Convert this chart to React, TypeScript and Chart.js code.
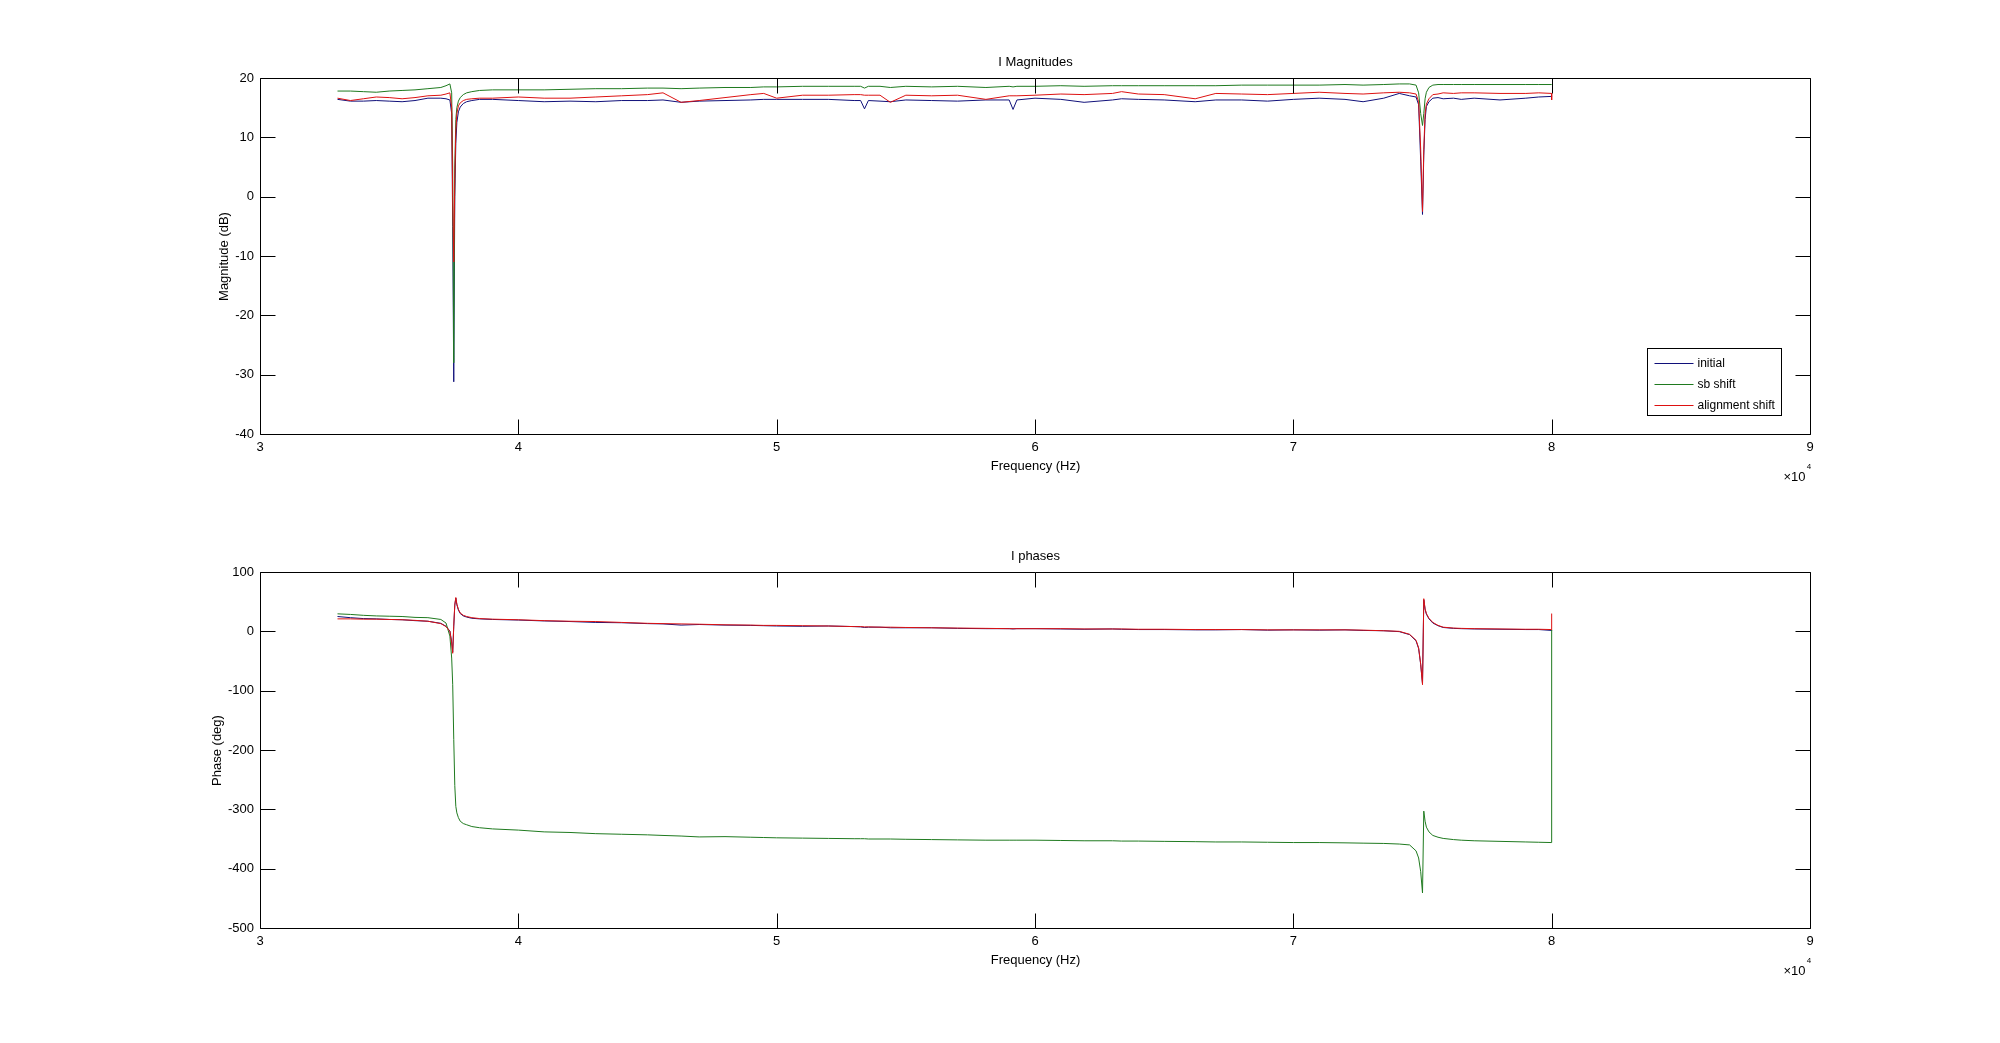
import React, { useEffect, useRef } from "react";
import { Chart, registerables } from "chart.js";

Chart.register(...registerables);

// ---------- data ----------
const FREQ_HZ = [
  33000, 33500, 34000, 34500, 35000, 35500, 36000, 36500, 37000, 37200,
  37350, 37420, 37460, 37500, 37540, 37580, 37620, 37680, 37750, 37870,
  38000, 38200, 38500, 39000, 40000, 41000, 42000, 43000, 44000, 45000,
  45600, 46300, 47000, 48000, 49000, 49500, 50000, 51000, 52000, 53000,
  53250, 53400, 53550, 54000, 54400, 55000, 56000, 57000, 58100, 59000, 59150, 59300, 60000, 61000,
  61900, 63000, 63350, 64000, 65000, 66200, 67000, 68000, 69000, 70000,
  71000, 72000, 72700, 73500, 74100, 74500, 74750, 74850, 74930, 75000,
  75050, 75100, 75150, 75250, 75400, 75600, 75800, 76200, 76500, 77000,
  78000, 79000, 79500, 80000, 80000,
];

const MAG_INITIAL = [
  16.4, 16.1, 16.1, 16.2, 16.1, 16.0, 16.2, 16.6, 16.6, 16.5,
  16.3, 14.0, -5, -31.2, 0, 9, 12.5, 14.3, 15.1, 15.7,
  16.0, 16.2, 16.4, 16.4, 16.2, 16.0, 16.1, 16.0, 16.2, 16.2,
  16.3, 15.9, 16.1, 16.2, 16.3, 16.4, 16.4, 16.4, 16.4, 16.2,
  16.2, 14.8, 16.2, 16.1, 16.0, 16.3, 16.2, 16.1, 16.3, 16.3, 14.7, 16.3, 16.6, 16.4,
  15.9, 16.3, 16.5, 16.4, 16.3, 16.0, 16.3, 16.3, 16.1, 16.4,
  16.6, 16.4, 16.0, 16.6, 17.4, 17.0, 16.8, 15.5, 6, -3,
  7, 13, 15.2, 16.0, 16.6, 16.7, 16.5, 16.6, 16.4, 16.6,
  16.3, 16.6, 16.8, 16.9, 17.0,
];

const MAG_SB_SHIFT = [
  17.8, 17.8, 17.7, 17.6, 17.8, 17.9, 18.0, 18.2, 18.4, 18.7,
  19.0, 17.5, 5, -28, 5, 13, 15.0, 16.1, 16.7, 17.2,
  17.5, 17.7, 17.9, 18.0, 18.0, 18.0, 18.1, 18.2, 18.2, 18.3,
  18.3, 18.2, 18.3, 18.4, 18.4, 18.5, 18.5, 18.6, 18.6, 18.6,
  18.6, 18.3, 18.6, 18.6, 18.4, 18.6, 18.5, 18.6, 18.4, 18.6, 18.5, 18.6, 18.6, 18.7,
  18.6, 18.7, 18.7, 18.7, 18.7, 18.7, 18.7, 18.8, 18.8, 18.8,
  18.8, 18.9, 18.8, 18.9, 19.0, 19.0, 18.8, 17.5, 14, 12,
  14, 16.5, 17.6, 18.4, 18.8, 18.9, 18.9, 18.9, 18.9, 18.9,
  18.9, 18.9, 18.9, 18.9, 18.9,
];

const MAG_ALIGN_SHIFT = [
  16.6, 16.2, 16.5, 16.8, 16.7, 16.5, 16.7, 17.0, 17.1, 17.3,
  17.5, 15.0, 0, -11, 3, 11, 14.0, 15.3, 15.8, 16.2,
  16.4, 16.5, 16.6, 16.6, 16.8, 16.6, 16.6, 16.8, 17.0, 17.2,
  17.5, 15.9, 16.2, 16.7, 17.2, 17.4, 16.6, 17.1, 17.1, 17.2,
  17.2, 17.1, 17.1, 17.1, 15.9, 17.1, 17.0, 17.1, 16.4, 17.0, 17.0, 17.0, 17.1, 17.3,
  17.2, 17.4, 17.7, 17.3, 17.2, 16.5, 17.4, 17.3, 17.2, 17.4,
  17.6, 17.4, 17.3, 17.5, 17.6, 17.5, 17.3, 16.0, 8, -2.5,
  8, 14, 15.6, 16.5, 17.2, 17.3, 17.5, 17.4, 17.5, 17.5,
  17.4, 17.4, 17.5, 17.4, 16.3,
];

const PHASE_INITIAL = [
  25, 23, 21.5, 21, 20, 19.5, 18, 17, 13.5, 8.5,
  0.5, -18, -35, 8, 44, 56, 45, 36, 30, 26,
  24, 22, 21, 20, 19, 17.5, 16.5, 15, 14.5, 13,
  12.5, 10.5, 11.5, 10.5, 10, 9.5, 9, 8.5, 9, 8,
  7.5, 6.5, 7, 7, 6, 6, 6, 5, 4.5, 4.5, 4, 4.5, 4.5, 4,
  3.5, 4, 3.5, 3, 3, 2.5, 2.5, 3, 2, 2.5,
  2, 2.5, 1.5, 1, -0.5, -5.5, -16, -29, -56, -88,
  53, 37, 29, 21, 14, 9.5, 6.5, 5, 4.5, 4,
  3.5, 3, 3, 1.5, 1,
];

const PHASE_SB_SHIFT = [
  29.5, 28.5, 27, 26, 25.5, 25, 23.5, 23, 20, 14,
  -8, -45, -90, -182, -260, -295, -306, -314, -320, -324,
  -326, -329, -331, -333, -335, -338, -339, -341, -342, -343,
  -344, -345, -346.5, -346, -347, -347.5, -348, -348.5, -349, -349.5,
  -349.5, -349.5, -350, -350, -350, -350.5, -351, -351.5, -352, -352, -352, -352, -352, -352.5,
  -353, -353, -353.5, -353.5, -354, -354.5, -355, -355, -355.5, -356,
  -356, -356.5, -357, -357.5, -358.5, -360, -370, -382, -405, -441,
  -303, -320, -330, -338, -344, -347, -349, -351, -352, -353,
  -354, -355, -355.5, -356, 3,
];

const PHASE_ALIGN_SHIFT = [
  21, 21, 20.5, 20.5, 20, 19.5, 18.5, 17, 13, 8,
  0, -20, -37, 10, 45, 57, 46, 37, 31, 27,
  25, 23, 21.5, 20.5, 19.5, 18, 17, 16.5, 15, 13.5,
  13, 12.5, 12, 11, 10.5, 10, 10, 9.5, 9, 8,
  8, 7.5, 7.5, 7, 7, 6.5, 6, 5.5, 5, 4.5, 4.5, 4.5, 4.5, 4.5,
  4, 4, 4, 3.5, 3.5, 3, 3, 3, 2.5, 2.5,
  2.5, 2.5, 2, 1, 0, -5, -15, -28, -55, -90,
  55, 38, 30, 22, 15, 10, 7, 5.5, 5, 4.5,
  4, 3.5, 3.5, 3, 30,
];

const SERIES_NAMES = ["initial", "sb shift", "alignment shift"];
const SERIES_COLORS = ["#10107a", "#1f7a1f", "#dd1111"];
const X_TICK_VALUES = [30000, 40000, 50000, 60000, 70000, 80000, 90000];
const MAG_TICK_VALUES = [-40, -30, -20, -10, 0, 10, 20];
const PHASE_TICK_VALUES = [-500, -400, -300, -200, -100, 0, 100];

const FONT = '"Liberation Sans", Arial, Helvetica, sans-serif';

// ---------- drawing helpers ----------
const matlabAxesPlugin = {
  id: "matlabAxes",
  afterDraw(chart: any, _args: any, opts: any) {
    const ctx = chart.ctx as CanvasRenderingContext2D;
    const { left, right, top, bottom } = chart.chartArea;
    const xs = chart.scales.x;
    const ys = chart.scales.y;
    const L = Math.round(left) + 0.5;
    const R = Math.round(right) + 0.5;
    const T = Math.round(top) + 0.5;
    const B = Math.round(bottom) + 0.5;
    const TL = 15;
    ctx.save();
    ctx.strokeStyle = "#000";
    ctx.lineWidth = 1;
    ctx.beginPath();
    ctx.rect(L, T, R - L, B - T);
    ctx.stroke();
    ctx.beginPath();
    xs.ticks.forEach((t: any) => {
      const px = Math.round(xs.getPixelForValue(t.value)) + 0.5;
      ctx.moveTo(px, B);
      ctx.lineTo(px, B - TL);
      ctx.moveTo(px, T);
      ctx.lineTo(px, T + TL);
    });
    ys.ticks.forEach((t: any) => {
      const py = Math.round(ys.getPixelForValue(t.value)) + 0.5;
      ctx.moveTo(L, py);
      ctx.lineTo(L + TL, py);
      ctx.moveTo(R, py);
      ctx.lineTo(R - TL, py);
    });
    ctx.stroke();

    ctx.fillStyle = "#000";
    ctx.font = `13px ${FONT}`;
    ctx.textAlign = "center";
    ctx.textBaseline = "middle";
    ctx.fillText(opts.title, (L + R) / 2, T - 16);
    ctx.fillText("Frequency (Hz)", (L + R) / 2, B + 32);

    ctx.textAlign = "right";
    ctx.fillText("\u00d710", R - 5, B + 43);
    ctx.font = `8px ${FONT}`;
    ctx.textAlign = "center";
    ctx.fillText("4", R - 1.5, B + 32);

    ctx.save();
    ctx.font = `13px ${FONT}`;
    ctx.translate(opts.yLabelX, (T + B) / 2);
    ctx.rotate(-Math.PI / 2);
    ctx.textAlign = "center";
    ctx.textBaseline = "middle";
    ctx.fillText(opts.yLabel, 0, 0);
    ctx.restore();

    if (opts.legend) {
      const bx = Math.round(right) - 163 + 0.5;
      const by = Math.round(bottom) - 86 + 0.5;
      const bw = 134;
      const bh = 67;
      ctx.fillStyle = "#fff";
      ctx.fillRect(bx, by, bw, bh);
      ctx.strokeStyle = "#000";
      ctx.strokeRect(bx, by, bw, bh);
      ctx.font = `12px ${FONT}`;
      ctx.textAlign = "left";
      ctx.textBaseline = "middle";
      SERIES_NAMES.forEach((name, i) => {
        const y = Math.round(by + 14 + i * 21) + 0.5;
        ctx.strokeStyle = SERIES_COLORS[i];
        ctx.beginPath();
        ctx.moveTo(bx + 7, y);
        ctx.lineTo(bx + 46, y);
        ctx.stroke();
        ctx.fillStyle = "#000";
        ctx.fillText(name, bx + 50, y);
      });
    }
    ctx.restore();
  },
};

function buildDatasets(values: number[][]) {
  // draw order: initial bottom, sb shift middle, alignment shift on top
  const orders = [2, 1, 0];
  return values.map((vals, i) => ({
    label: SERIES_NAMES[i],
    data: FREQ_HZ.map((f, k) => ({ x: f, y: vals[k] })),
    borderColor: SERIES_COLORS[i],
    backgroundColor: SERIES_COLORS[i],
    borderWidth: 1,
    pointRadius: 0,
    pointHoverRadius: 0,
    tension: 0,
    fill: false,
    order: orders[i],
  }));
}

function buildConfig(
  values: number[][],
  yTicks: number[],
  padding: { top: number; bottom: number },
  pluginOpts: any
): any {
  return {
    type: "line",
    data: { datasets: buildDatasets(values) },
    plugins: [matlabAxesPlugin],
    options: {
      responsive: false,
      animation: false,
      devicePixelRatio: 1,
      events: [],
      layout: { padding: { left: 200, right: 190, top: padding.top, bottom: padding.bottom } },
      plugins: {
        legend: { display: false },
        title: { display: false },
        tooltip: { enabled: false },
        matlabAxes: pluginOpts,
      },
      scales: {
        x: {
          type: "linear",
          min: X_TICK_VALUES[0],
          max: X_TICK_VALUES[X_TICK_VALUES.length - 1],
          afterBuildTicks: (scale: any) => {
            scale.ticks = X_TICK_VALUES.map((v) => ({ value: v }));
          },
          afterFit: (scale: any) => {
            scale.height = 40;
          },
          grid: { display: false, drawTicks: false },
          border: { display: false },
          ticks: {
            color: "#000",
            padding: 6,
            maxRotation: 0,
            autoSkip: false,
            font: { family: FONT, size: 13 },
            callback: (v: any) => String(Number(v) / 10000),
          },
        },
        y: {
          type: "linear",
          min: yTicks[0],
          max: yTicks[yTicks.length - 1],
          afterBuildTicks: (scale: any) => {
            scale.ticks = yTicks.map((v) => ({ value: v }));
          },
          afterFit: (scale: any) => {
            scale.width = 60;
          },
          grid: { display: false, drawTicks: false },
          border: { display: false },
          ticks: {
            color: "#000",
            padding: 6,
            autoSkip: false,
            font: { family: FONT, size: 13 },
            callback: (v: any) => String(v),
          },
        },
      },
    },
  };
}

function PlotCanvas(props: { top: number; height: number; config: () => any }) {
  const ref = useRef<HTMLCanvasElement | null>(null);
  useEffect(() => {
    if (!ref.current) return;
    const chart = new Chart(ref.current, props.config());
    return () => chart.destroy();
  }, []);
  return (
    <canvas
      ref={ref}
      width={2000}
      height={props.height}
      style={{ position: "absolute", left: 0, top: props.top, width: 2000, height: props.height }}
    />
  );
}

export default function App() {
  return (
    <div
      style={{
        position: "absolute",
        left: 0,
        top: 0,
        width: 2000,
        height: 1043,
        background: "#fff",
        overflow: "hidden",
      }}
    >
      <PlotCanvas
        top={0}
        height={521}
        config={() =>
          buildConfig(
            [MAG_INITIAL, MAG_SB_SHIFT, MAG_ALIGN_SHIFT],
            MAG_TICK_VALUES,
            { top: 78, bottom: 47 },
            { title: "I Magnitudes", yLabel: "Magnitude (dB)", yLabelX: 224, legend: true }
          )
        }
      />
      <PlotCanvas
        top={521}
        height={522}
        config={() =>
          buildConfig(
            [PHASE_INITIAL, PHASE_SB_SHIFT, PHASE_ALIGN_SHIFT],
            PHASE_TICK_VALUES,
            { top: 51, bottom: 75 },
            { title: "I phases", yLabel: "Phase (deg)", yLabelX: 217, legend: false }
          )
        }
      />
    </div>
  );
}
